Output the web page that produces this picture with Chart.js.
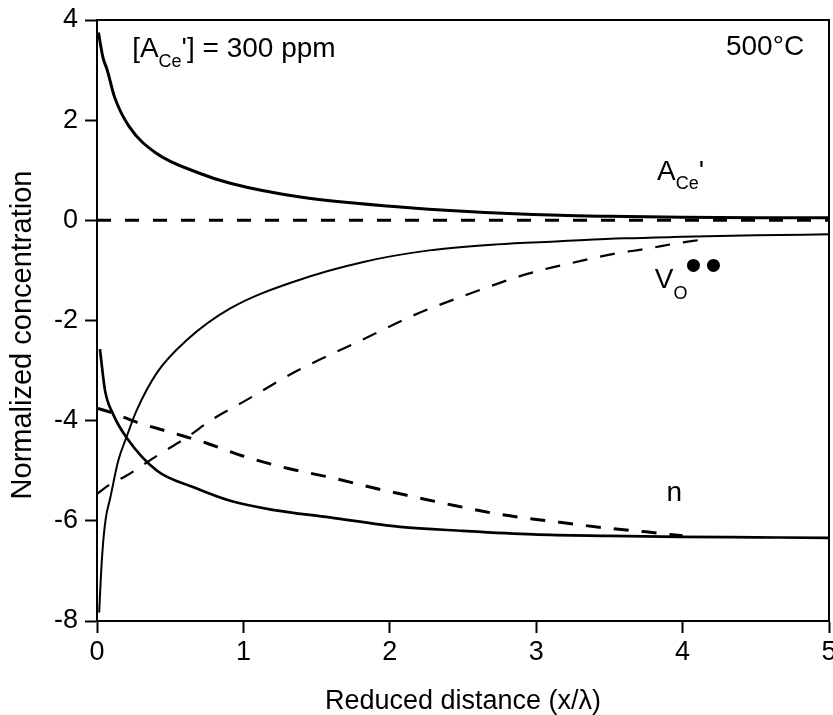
<!DOCTYPE html>
<html>
<head>
<meta charset="utf-8">
<script src="https://cdn.jsdelivr.net/npm/chart.js@4.4.1/dist/chart.umd.min.js"></script>
<style>
  html, body { margin: 0; padding: 0; background: #fff; }
  #wrap { width: 833px; height: 715px; }
</style>
</head>
<body>
<div id="wrap"><canvas id="graphe" width="833" height="715"></canvas></div>
<script>
// Normalized concentration profiles, [A_Ce'] = 300 ppm, 500 °C

const xTicks = [0, 1, 2, 3, 4, 5];
const yTicks = [-8, -6, -4, -2, 0, 2, 4];

// A_Ce' : solid curve and dashed reference
const accX = [0.01, 0.04, 0.07, 0.12, 0.22, 0.4, 0.7, 0.91, 1.4, 2.05, 2.5, 3.16, 3.5, 4.0, 4.5, 5.0];
const accY = [3.75, 3.26, 3.0, 2.46, 1.87, 1.35, 0.94, 0.74, 0.46, 0.27, 0.18, 0.1, 0.08, 0.06, 0.05, 0.05];
const accRefX = [0, 5];
const accRefY = [0, 0];

// V_O•• : solid and dashed
const voX = [0.015, 0.025, 0.04, 0.06, 0.09, 0.145, 0.2, 0.27, 0.41, 0.61, 0.91, 1.37, 1.82, 2.27, 2.73, 3.16, 3.6, 4.0, 4.5, 5.0];
const voY = [-7.83, -7.2, -6.5, -5.95, -5.55, -4.8, -4.34, -3.8, -3.04, -2.4, -1.76, -1.2, -0.83, -0.6, -0.48, -0.42, -0.36, -0.33, -0.3, -0.28];
const voRefX = [0.0, 0.09, 0.2, 0.41, 0.61, 0.79, 0.99, 1.37, 1.78, 2.16, 2.55, 2.94, 3.32, 3.53, 3.75, 3.94, 4.12];
const voRefY = [-5.46, -5.27, -5.1, -4.7, -4.34, -3.97, -3.64, -3.0, -2.43, -1.9, -1.46, -1.07, -0.8, -0.67, -0.57, -0.47, -0.39];

// n : solid and dashed
const nX = [0.02, 0.055, 0.11, 0.2, 0.41, 0.66, 0.91, 1.2, 1.59, 2.07, 2.5, 2.98, 3.5, 3.98, 4.5, 5.0];
const nY = [-2.57, -3.4, -3.87, -4.33, -5.0, -5.33, -5.6, -5.78, -5.93, -6.12, -6.2, -6.27, -6.3, -6.32, -6.33, -6.34];
const nRefX = [0.0, 0.09, 0.27, 0.5, 0.75, 0.99, 1.3, 1.59, 1.9, 2.18, 2.45, 2.75, 3.16, 3.5, 3.75, 4.0];
const nRefY = [-3.75, -3.83, -4.03, -4.23, -4.45, -4.7, -4.95, -5.13, -5.35, -5.53, -5.7, -5.87, -6.03, -6.15, -6.22, -6.3];

const POLICE = "'Liberation Sans', Arial, sans-serif";

function points(xs, ys) {
  return xs.map((x, i) => ({ x: x, y: ys[i] }));
}

function serie(xs, ys, largeur, tirets) {
  return {
    data: points(xs, ys),
    borderColor: "#000",
    borderWidth: largeur,
    borderDash: tirets || [],
    pointRadius: 0,
    fill: false,
    cubicInterpolationMode: "monotone",
  };
}

// texts drawn on the plot, plus the frame and the rotated y title
const annotations = {
  id: "annotations",
  afterDraw(chart) {
    const { ctx, chartArea: a, scales: { x, y } } = chart;
    ctx.save();
    ctx.strokeStyle = "#000";
    ctx.lineWidth = 2;
    ctx.strokeRect(a.left, a.top, a.right - a.left, a.bottom - a.top);

    ctx.fillStyle = "#000";
    ctx.textBaseline = "alphabetic";
    const gros = "28px " + POLICE;
    const petit = "18px " + POLICE;

    // suite de morceaux : [texte, police, decalage vertical]
    function ecrire(morceaux, px, py) {
      let cx = px;
      morceaux.forEach(([t, f, dy]) => {
        ctx.font = f;
        ctx.fillText(t, cx, py + dy);
        cx += ctx.measureText(t).width;
      });
      return cx;
    }

    ecrire([["[A", gros, 0], ["Ce", petit, 10], ["'] = 300 ppm", gros, 0]], x.getPixelForValue(0.24), y.getPixelForValue(3.26));

    ctx.font = gros;
    ctx.textAlign = "right";
    ctx.fillText("500°C", x.getPixelForValue(4.83), y.getPixelForValue(3.3));
    ctx.textAlign = "left";

    ecrire([["A", gros, 0], ["Ce", petit, 9], ["'", gros, 0]], x.getPixelForValue(3.825), y.getPixelForValue(0.8));

    const fin = ecrire([["V", gros, 0], ["O", petit, 11]], x.getPixelForValue(3.81), y.getPixelForValue(-1.36));
    ctx.beginPath();
    ctx.arc(fin + 6, y.getPixelForValue(-0.9), 6.5, 0, Math.PI * 2);
    ctx.arc(fin + 26, y.getPixelForValue(-0.9), 6.5, 0, Math.PI * 2);
    ctx.fill();

    ecrire([["n", gros, 0]], x.getPixelForValue(3.89), y.getPixelForValue(-5.6));

    ctx.translate(23, 335);
    ctx.rotate(-Math.PI / 2);
    ctx.textAlign = "center";
    ctx.textBaseline = "middle";
    ctx.font = "29px " + POLICE;
    ctx.fillText("Normalized concentration", 0, 0);
    ctx.restore();
  },
};

new Chart(document.getElementById("graphe"), {
  type: "line",
  data: {
    datasets: [
      serie(accX, accY, 3),
      serie(accRefX, accRefY, 3, [14, 14]),
      serie(voX, voY, 2),
      serie(voRefX, voRefY, 2.2, [15, 13]),
      serie(nX, nY, 2.7),
      serie(nRefX, nRefY, 3, [15, 13]),
    ],
  },
  options: {
    responsive: false,
    animation: false,
    layout: { padding: { top: 20, right: 4, left: 0, bottom: 0 } },
    plugins: { legend: { display: false }, tooltip: { enabled: false } },
    scales: {
      x: {
        type: "linear",
        min: Math.min(...xTicks),
        max: Math.max(...xTicks),
        ticks: { stepSize: 1, color: "#000", font: { family: POLICE, size: 27 }, padding: 3, maxRotation: 0, autoSkip: false },
        grid: { drawOnChartArea: false, drawTicks: true, tickLength: 12, tickWidth: 2, color: "#000" },
        border: { display: true, color: "#000", width: 2 },
        title: {
          display: true,
          text: "Reduced distance (x/λ)",
          color: "#000",
          font: { family: POLICE, size: 27, lineHeight: 1 },
          padding: { top: 0, bottom: 0 },
        },
        afterFit(s) {
          s.height = 94;
          s.paddingLeft = 0;
          s.paddingRight = 0;
        },
      },
      y: {
        type: "linear",
        min: Math.min(...yTicks),
        max: Math.max(...yTicks),
        ticks: { stepSize: 2, color: "#000", font: { family: POLICE, size: 27 }, padding: 7 },
        grid: { drawOnChartArea: false, drawTicks: true, tickLength: 12, tickWidth: 2, color: "#000" },
        border: { display: true, color: "#000", width: 2 },
        afterFit(s) {
          s.width = 97;
          s.paddingTop = 0;
          s.paddingBottom = 0;
        },
      },
    },
  },
  plugins: [annotations],
});
</script>
</body>
</html>
